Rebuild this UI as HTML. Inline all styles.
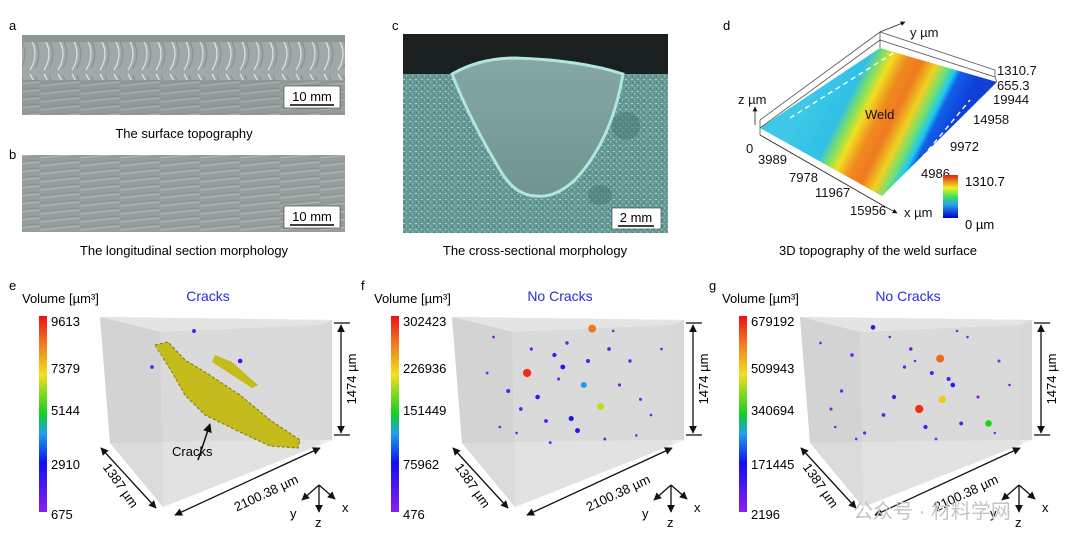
<!DOCTYPE html>
<html><head><meta charset="utf-8"><style>
html,body{margin:0;padding:0;background:#fff;width:1080px;height:551px;overflow:hidden}
svg{display:block;font-family:"Liberation Sans","Noto Sans CJK SC",sans-serif}
</style></head><body>
<svg id="fig" width="1080" height="551" viewBox="0 0 1080 551" xmlns="http://www.w3.org/2000/svg">
<defs>
<pattern id="ripple" width="14" height="36" patternUnits="userSpaceOnUse">
<rect width="14" height="36" fill="#a0a8a8"/>
<path d="M2 2 Q12 18 2 34" stroke="#dfe5e5" stroke-width="1.2" fill="none"/>
<path d="M7 4 Q15 18 7 32" stroke="#7f8888" stroke-width="0.8" fill="none"/>
</pattern>
<pattern id="streak" width="40" height="8" patternUnits="userSpaceOnUse">
<rect width="40" height="8" fill="#959d9d"/>
<path d="M0 6 L40 2" stroke="#b2b9b9" stroke-width="1"/>
<path d="M0 3 L40 0" stroke="#808888" stroke-width="0.6"/>
</pattern>
<pattern id="grain" width="6" height="6" patternUnits="userSpaceOnUse">
<rect width="6" height="6" fill="#659894"/>
<rect x="1" y="1" width="2" height="1" fill="#a9d2cc"/>
<rect x="4" y="3" width="1" height="2" fill="#8fc1ba"/>
<rect x="2" y="4" width="1" height="1" fill="#4a726e"/>
</pattern>
<linearGradient id="weldfill" x1="0" y1="0" x2="0" y2="1">
<stop offset="0" stop-color="#86a8a4"/><stop offset="1" stop-color="#71948f"/>
</linearGradient>
<linearGradient id="surf" gradientUnits="userSpaceOnUse" x1="815" y1="85" x2="942" y2="148">
<stop offset="0" stop-color="#3cc8e6"/><stop offset="0.25" stop-color="#30c0e8"/>
<stop offset="0.33" stop-color="#80e060"/><stop offset="0.4" stop-color="#f0e020"/>
<stop offset="0.5" stop-color="#f08a20"/><stop offset="0.6" stop-color="#f07a20"/>
<stop offset="0.7" stop-color="#f0d020"/><stop offset="0.78" stop-color="#70e070"/>
<stop offset="0.84" stop-color="#20c8f0"/><stop offset="0.88" stop-color="#1060e8"/>
<stop offset="1" stop-color="#1040d8"/>
</linearGradient>
<linearGradient id="jet" x1="0" y1="1" x2="0" y2="0">
<stop offset="0" stop-color="#0000c0"/><stop offset="0.3" stop-color="#20a0f0"/>
<stop offset="0.5" stop-color="#40e060"/><stop offset="0.7" stop-color="#f0f020"/>
<stop offset="1" stop-color="#e02010"/>
</linearGradient>
<linearGradient id="rainbow" x1="0" y1="1" x2="0" y2="0">
<stop offset="0" stop-color="#8a20f0"/><stop offset="0.25" stop-color="#1010f0"/>
<stop offset="0.4" stop-color="#20a0f0"/><stop offset="0.5" stop-color="#10d020"/>
<stop offset="0.7" stop-color="#f0e020"/><stop offset="0.85" stop-color="#f08020"/>
<stop offset="1" stop-color="#f01010"/>
</linearGradient>
<marker id="ah" viewBox="0 0 10 10" refX="9" refY="5" markerWidth="6" markerHeight="6" orient="auto-start-reverse"><path d="M0 0 L10 5 L0 10z" fill="#111"/></marker>
</defs>

<text x="9" y="30" font-size="13">a</text>
<g>
<rect x="22" y="35" width="323" height="80" fill="#8d9595"/>
<rect x="22" y="42" width="323" height="38" fill="url(#ripple)"/>
<rect x="22" y="80" width="323" height="35" fill="url(#streak)" opacity="0.8"/>
</g>
<g>
<rect x="284" y="86" width="56" height="22" fill="#fff" stroke="#333" stroke-width="0.6"/>
<text x="312" y="101" font-size="13" text-anchor="middle">10 mm</text>
<line x1="290" y1="105" x2="334" y2="105" stroke="#000" stroke-width="1.5"/>
</g>
<text x="184" y="138" font-size="13" text-anchor="middle">The surface topography</text>

<text x="9" y="159" font-size="13">b</text>
<rect x="22" y="155" width="323" height="77" fill="url(#streak)"/>
<g>
<rect x="284" y="206" width="56" height="22" fill="#fff" stroke="#333" stroke-width="0.6"/>
<text x="312" y="221" font-size="13" text-anchor="middle">10 mm</text>
<line x1="290" y1="225" x2="334" y2="225" stroke="#000" stroke-width="1.5"/>
</g>
<text x="184" y="255" font-size="13" text-anchor="middle">The longitudinal section morphology</text>

<text x="392" y="30" font-size="13">c</text>
<g>
<rect x="403" y="34" width="265" height="199" fill="url(#grain)"/>
<rect x="403" y="34" width="265" height="40" fill="#1a2020"/>
<path d="M452 74 Q480 58 515 58 Q580 60 623 74 Q612 140 575 180 Q555 198 537 196 Q515 196 500 170 Q470 120 452 74z" fill="url(#weldfill)" stroke="#b0e6de" stroke-width="3"/>
<ellipse cx="626" cy="126" rx="14" ry="14" fill="#4a7470" opacity="0.5"/>
<ellipse cx="600" cy="195" rx="12" ry="10" fill="#4a7470" opacity="0.5"/>
</g>
<g>
<rect x="612" y="208" width="49" height="21" fill="#fff" stroke="#333" stroke-width="0.6"/>
<text x="636" y="222" font-size="13" text-anchor="middle">2 mm</text>
<line x1="618" y1="226" x2="654" y2="226" stroke="#000" stroke-width="1.5"/>
</g>
<text x="535" y="255" font-size="13" text-anchor="middle">The cross-sectional morphology</text>

<text x="723" y="30" font-size="13">d</text>
<g stroke="#555" stroke-width="0.8" fill="none">
<path d="M760 128 L880 48 L997 82 L882 196z" fill="url(#surf)" stroke="none"/>
<path d="M760 128 L880 40 L995 77 L997 82"/>
<path d="M760 120 L880 32 L995 70 L995 77"/>
<line x1="760" y1="120" x2="760" y2="135"/>
<line x1="880" y1="32" x2="880" y2="48"/>
<path d="M760 135 L882 205" stroke="#222"/>
<path d="M790 118 L895 52" stroke="#fff" stroke-width="1.4" stroke-dasharray="5,4"/>
<path d="M905 178 L970 100" stroke="#fff" stroke-width="1.4" stroke-dasharray="5,4"/>
<line x1="882" y1="205" x2="897" y2="213" stroke="#222" marker-end="url(#ah)"/>
<line x1="880" y1="32" x2="905" y2="22" stroke="#222" marker-end="url(#ah)"/>
<line x1="755" y1="125" x2="755" y2="107" stroke="#222" marker-end="url(#ah)"/>
</g>
<g font-size="13" fill="#111">
<text x="910" y="37">y  µm</text>
<text x="738" y="104">z  µm</text>
<text x="865" y="119">Weld</text>
<text x="997" y="75">1310.7</text>
<text x="997" y="90">655.3</text>
<text x="993" y="104">19944</text>
<text x="973" y="124">14958</text>
<text x="950" y="151">9972</text>
<text x="921" y="178">4986</text>
<text x="746" y="153">0</text>
<text x="758" y="164">3989</text>
<text x="789" y="182">7978</text>
<text x="815" y="197">11967</text>
<text x="850" y="215">15956</text>
<text x="904" y="217">x  µm</text>
</g>
<rect x="943" y="175" width="15" height="43" fill="url(#jet)"/>
<text x="965" y="186" font-size="13">1310.7</text>
<text x="965" y="229" font-size="13">0  µm</text>
<text x="878" y="255" font-size="13" text-anchor="middle">3D topography of the weld surface</text>

<g id="bottom"></g>
<text x="932" y="518" font-size="20" fill="#c4c4c4" text-anchor="middle">公众号 · 材料学网</text>
</svg>
<script>
const ticksE = ["9613","7379","5144","2910","675"];
const ticksF = ["302423","226936","151449","75962","476"];
const ticksG = ["679192","509943","340694","171445","2196"];
const poresEu = [0.40,0.20,0.62];
const poresEv = [0.05,0.35,0.30];
const poresEvol = [900,700,1500];
const poresFu = [0.62,0.31,0.48,0.58,0.66,0.52,0.44,0.36,0.70,0.22,0.80,0.55,0.40,0.28,0.75,0.60,0.50,0.85,0.33,0.46,0.15,0.90,0.68,0.26,0.12,0.95,0.72,0.42,0.18,0.83];
const poresFv = [0.03,0.40,0.35,0.50,0.68,0.78,0.25,0.60,0.20,0.55,0.30,0.88,0.80,0.70,0.50,0.30,0.15,0.62,0.20,0.45,0.10,0.75,0.95,0.90,0.40,0.20,0.05,0.98,0.85,0.92];
const poresFvol = [260000,290000,60000,120000,200000,70000,40000,50000,20000,30000,15000,60000,25000,20000,10000,30000,15000,8000,12000,9000,5000,4000,6000,3000,5000,4000,3000,6000,4000,3000];
const poresGu = [0.30,0.62,0.63,0.68,0.52,0.72,0.85,0.20,0.40,0.58,0.15,0.66,0.35,0.48,0.80,0.26,0.55,0.45,0.90,0.10,0.05,0.95,0.75,0.22,0.60,0.38,0.88,0.12,0.50,0.70];
const poresGv = [0.02,0.28,0.62,0.50,0.70,0.82,0.82,0.25,0.60,0.40,0.55,0.45,0.75,0.20,0.60,0.90,0.85,0.35,0.30,0.70,0.15,0.50,0.10,0.95,0.95,0.10,0.90,0.85,0.30,0.05];
const poresGvol = [120000,600000,500000,120000,650000,60000,350000,40000,90000,60000,30000,70000,50000,40000,20000,25000,80000,30000,15000,20000,8000,6000,5000,7000,9000,6000,5000,4000,6000,5000];

const NS="http://www.w3.org/2000/svg";
const root=document.getElementById('bottom');
function mk(tag,attrs,parent,text){const e=document.createElementNS(NS,tag);for(const k in attrs)e.setAttribute(k,attrs[k]);if(text!==undefined)e.textContent=text;(parent||root).appendChild(e);return e;}
function colorOf(t){const stops=[[0,[138,32,240]],[0.25,[16,16,240]],[0.4,[32,160,240]],[0.5,[16,208,32]],[0.7,[240,224,32]],[0.85,[240,128,32]],[1,[240,16,16]]];
 t=Math.max(0,Math.min(1,t));for(let i=1;i<stops.length;i++){if(t<=stops[i][0]){const a=stops[i-1],b=stops[i];const f=(t-a[0])/(b[0]-a[0]);return 'rgb('+a[1].map((c,j)=>Math.round(c+(b[1][j]-c)*f)).join(',')+')';}}return 'rgb(240,16,16)';}

function panel(ox,letter,title,ticks,pu,pv,pvol,vmax,hasCracks){
 const g=mk('g',{});
 
 
 const t1=mk('text',{x:ox+9,y:290,'font-size':13},g,letter);
 
 
 const vl=mk('text',{x:ox+22,y:303,'font-size':13},g,'Volume [µm³]');
 
 
 const tt=mk('text',{x:ox+208,y:301,'font-size':14,fill:'#2a2ae0','text-anchor':'middle'},g,title);
 
 
 const cb=mk('rect',{x:ox+39,y:316,width:8,height:196,fill:'url(#rainbow)'},g);
 
 
 const ty=[322,369,411,465,515];
 ticks.forEach((s,i)=>{const e=mk('text',{x:ox+51,y:ty[i]+4,'font-size':13},g,s);
  
  });
 const bx=mk('g',{},g);
 
 
 mk('path',{d:`M${ox+100} 317 L${ox+332} 320 L${ox+332} 440 L${ox+110} 443z`,fill:'#d8d8d8'},bx);
 mk('path',{d:`M${ox+100} 317 L${ox+332} 320 L${ox+320} 325 L${ox+160} 332z`,fill:'#e4e4e4'},bx);
 mk('path',{d:`M${ox+110} 443 L${ox+332} 440 L${ox+320} 445 L${ox+163} 507z`,fill:'#ececec'},bx);
 mk('path',{d:`M${ox+160} 332 L${ox+320} 325 L${ox+320} 445 L${ox+163} 507z`,fill:'#dcdcdc',opacity:0.6},bx);
 mk('path',{d:`M${ox+100} 317 L${ox+110} 443 L${ox+163} 507 L${ox+160} 332z`,fill:'#d0d0d0',opacity:0.6},bx);
 if(hasCracks){
  const c=mk('g',{},g);
  
  
  mk('path',{d:`M${ox+155} 345 L${ox+168} 342 L${ox+185} 360 L${ox+205} 372 L${ox+240} 395 L${ox+270} 420 L${ox+300} 440 L${ox+298} 448 L${ox+270} 446 L${ox+240} 432 L${ox+205} 415 L${ox+185} 395 L${ox+172} 372z`,fill:'#c4bc1c',stroke:'#8a8410','stroke-width':1.2,'stroke-dasharray':'3,2'},c);
  mk('path',{d:`M${ox+215} 355 L${ox+232} 362 L${ox+258} 385 L${ox+252} 388 L${ox+212} 362z`,fill:'#c4bc1c'},c);
  mk('path',{d:`M${ox+155} 345 L${ox+165} 348 L${ox+172} 358 L${ox+162} 356z`,fill:'#c4bc1c'},c);
  mk('line',{x1:ox+198,y1:460,x2:ox+210,y2:424,stroke:'#111','stroke-width':1.5,'marker-end':'url(#ah)'},c);
  mk('text',{x:ox+172,y:456,'font-size':13},c,'Cracks');
 }
 for(let i=0;i<pu.length;i++){
  const x=ox+110+pu[i]*210, y=325+pv[i]*120, r=1+3.2*Math.sqrt(pvol[i]/vmax);
  const p=mk('circle',{cx:x,cy:y,r:r.toFixed(2),fill:colorOf(pvol[i]/vmax)},g);
  
  
 }
 const d=mk('g',{stroke:'#111','stroke-width':1.3,fill:'none'},g);
 
 
 mk('line',{x1:ox+334,y1:323,x2:ox+350,y2:323},d);
 mk('line',{x1:ox+334,y1:435,x2:ox+350,y2:435},d);
 mk('line',{x1:ox+341,y1:325,x2:ox+341,y2:433,'marker-start':'url(#ah)','marker-end':'url(#ah)'},d);
 mk('line',{x1:ox+101,y1:448,x2:ox+156,y2:508,'marker-start':'url(#ah)','marker-end':'url(#ah)'},d);
 mk('line',{x1:ox+175,y1:515,x2:ox+320,y2:448,'marker-start':'url(#ah)','marker-end':'url(#ah)'},d);
 mk('text',{x:0,y:0,'font-size':13,transform:`translate(${ox+356},379) rotate(-90)`,'text-anchor':'middle'},g,'1474 µm');
 mk('text',{x:0,y:0,'font-size':13,transform:`translate(${ox+117},488) rotate(55)`,'text-anchor':'middle'},g,'1387 µm');
 mk('text',{x:0,y:0,'font-size':13,transform:`translate(${ox+268},497) rotate(-25)`,'text-anchor':'middle'},g,'2100.38 µm');
 const tr=mk('g',{stroke:'#111','stroke-width':1.3},g);
 
 
 mk('line',{x1:ox+319,y1:485,x2:ox+319,y2:512,'marker-end':'url(#ah)'},tr);
 mk('line',{x1:ox+319,y1:485,x2:ox+302,y2:500,'marker-end':'url(#ah)'},tr);
 mk('line',{x1:ox+319,y1:485,x2:ox+335,y2:499,'marker-end':'url(#ah)'},tr);
 mk('text',{x:ox+290,y:518,'font-size':13},g,'y');
 mk('text',{x:ox+315,y:527,'font-size':13},g,'z');
 mk('text',{x:ox+342,y:512,'font-size':13},g,'x');
}
panel(0,'e','Cracks',ticksE,poresEu,poresEv,poresEvol,9613,true);
panel(352,'f','No Cracks',ticksF,poresFu,poresFv,poresFvol,302423,false);
panel(700,'g','No Cracks',ticksG,poresGu,poresGv,poresGvol,679192,false);
</script>
</body></html>
